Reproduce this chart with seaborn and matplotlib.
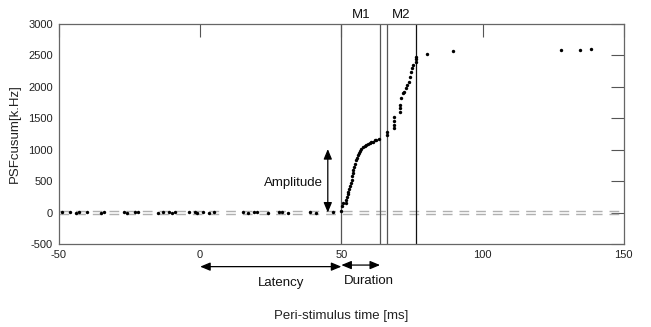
import matplotlib
matplotlib.use("Agg")
import matplotlib.pyplot as plt
import seaborn as sns
import pandas as pd

sns.set_style("white")
plt.rcParams['font.family'] = ['Liberation Sans', 'DejaVu Sans']
plt.rcParams['axes.unicode_minus'] = False

# Baseline (pre-stimulus) cumulative-sum points
baseline_t = [-49, -46, -44, -43, -40, -35, -34, -27, -26, -23, -22, -15, -13, -11, -10, -9,
              -4, -2, -1, 1, 3, 5, 15, 17, 19, 20, 24, 28, 29, 31, 39, 41, 47]
baseline_v = [5, 10, 0, 8, 5, 0, 10, 5, 0, 5, 10, 0, 5, 10, 0, 5,
              5, 10, 0, 5, 0, 10, 5, 0, 10, 5, 0, 5, 10, 0, 5, 0, 10]

# Response cumulative-sum points
resp_t = [49.8, 50.4, 50.6, 51.5, 51.8, 52.0, 52.3, 52.5, 52.8, 53.1, 53.4, 53.7, 53.9, 54.1,
          54.3, 54.6, 54.9, 55.2, 55.5, 55.8, 56.2, 56.6, 57.1, 57.6, 58.2, 58.8, 59.4, 60.0,
          60.6, 61.2, 61.8, 62.3, 63.4, 66.0, 66.0, 68.6, 68.6, 68.6, 68.6, 70.6, 70.8, 70.9,
          71.0, 71.8, 72.2, 73.0, 73.4, 73.8, 74.3, 74.6, 75.1, 75.5, 76.4, 76.4, 76.4, 80.4,
          89.6, 127.7, 134.5, 138.4]
resp_v = [30, 110, 150, 160, 200, 250, 300, 330, 380, 420, 470, 520, 580, 630,
          680, 730, 780, 830, 870, 910, 950, 985, 1015, 1040, 1060, 1075, 1090, 1105,
          1115, 1130, 1150, 1160, 1170, 1235, 1285, 1345, 1400, 1455, 1525, 1605, 1660, 1715,
          1820, 1900, 1925, 1975, 2030, 2085, 2160, 2240, 2295, 2350, 2400, 2440, 2480, 2515,
          2570, 2580, 2585, 2595]

# Marker lines (ms)
onset = 50
m1_end = 63.7
m2_start = 66.3
m2_end = 76.5
thresh_hi = 20
thresh_lo = -20
amp_x = 45.2
amp_top = 1010

xticks = [-50, 0, 50, 100, 150]
yticks = [-500, 0, 500, 1000, 1500, 2000, 2500, 3000]

df = pd.DataFrame({"t": baseline_t + resp_t, "v": baseline_v + resp_v})

fig = plt.figure(figsize=(6.51, 3.27), dpi=100)
ax = fig.add_axes([0.0906, 0.2538, 0.8675, 0.6728])

ax.axhline(thresh_hi, color='#b0b0b0', lw=1, ls=(0, (7, 5)), zorder=1)
ax.axhline(thresh_lo, color='#b0b0b0', lw=1, ls=(0, (7, 5)), zorder=1)

sns.scatterplot(data=df, x="t", y="v", ax=ax, s=6, color='black', edgecolor='black',
                linewidth=0, marker='o', zorder=3)

for xv, c in [(onset, '#555555'), (m1_end, '#555555'), (m2_start, '#555555'), (m2_end, '#111111')]:
    ax.axvline(xv, color=c, lw=0.9, zorder=2)

ax.set_xlim(-50, 150)
ax.set_ylim(-500, 3000)
ax.set_xticks(xticks)
ax.set_yticks(yticks)
ax.tick_params(direction='in', length=9.5, width=0.8, color='#555555', labelcolor='#222222',
               labelsize=8, top=True, right=True, pad=4.5)
for s in ax.spines.values():
    s.set_color('#666666')
    s.set_linewidth(0.9)

fs = 9.5
ax.set_xlabel("Peri-stimulus time [ms]", fontsize=fs, color='#222222', labelpad=36)
ax.set_ylabel("PSFcusum[k.Hz]", fontsize=fs, color='#222222', labelpad=5)

arrow_kw = dict(arrowstyle='<|-|>,head_length=0.6,head_width=0.25', color='black', lw=0.9,
                shrinkA=0, shrinkB=0)
ax.annotate('', xy=(amp_x, 0), xytext=(amp_x, amp_top), arrowprops=arrow_kw, annotation_clip=False)
ax.text(43.5, 476, "Amplitude", ha='right', va='center', fontsize=fs, color='#111111')

ax.annotate('', xy=(0, -860), xytext=(onset, -860), arrowprops=arrow_kw, annotation_clip=False)
ax.text(28.6, -1125, "Latency", ha='center', va='center', fontsize=fs, color='#111111')

ax.annotate('', xy=(onset, -835), xytext=(m1_end, -835), arrowprops=arrow_kw, annotation_clip=False)
ax.text(59.7, -1083, "Duration", ha='center', va='center', fontsize=fs, color='#111111')

ax.text(57.1, 3140, "M1", ha='center', va='center', fontsize=fs, color='#111111', clip_on=False)
ax.text(71.0, 3140, "M2", ha='center', va='center', fontsize=fs, color='#111111', clip_on=False)

fig.savefig("out.png", dpi=100)
